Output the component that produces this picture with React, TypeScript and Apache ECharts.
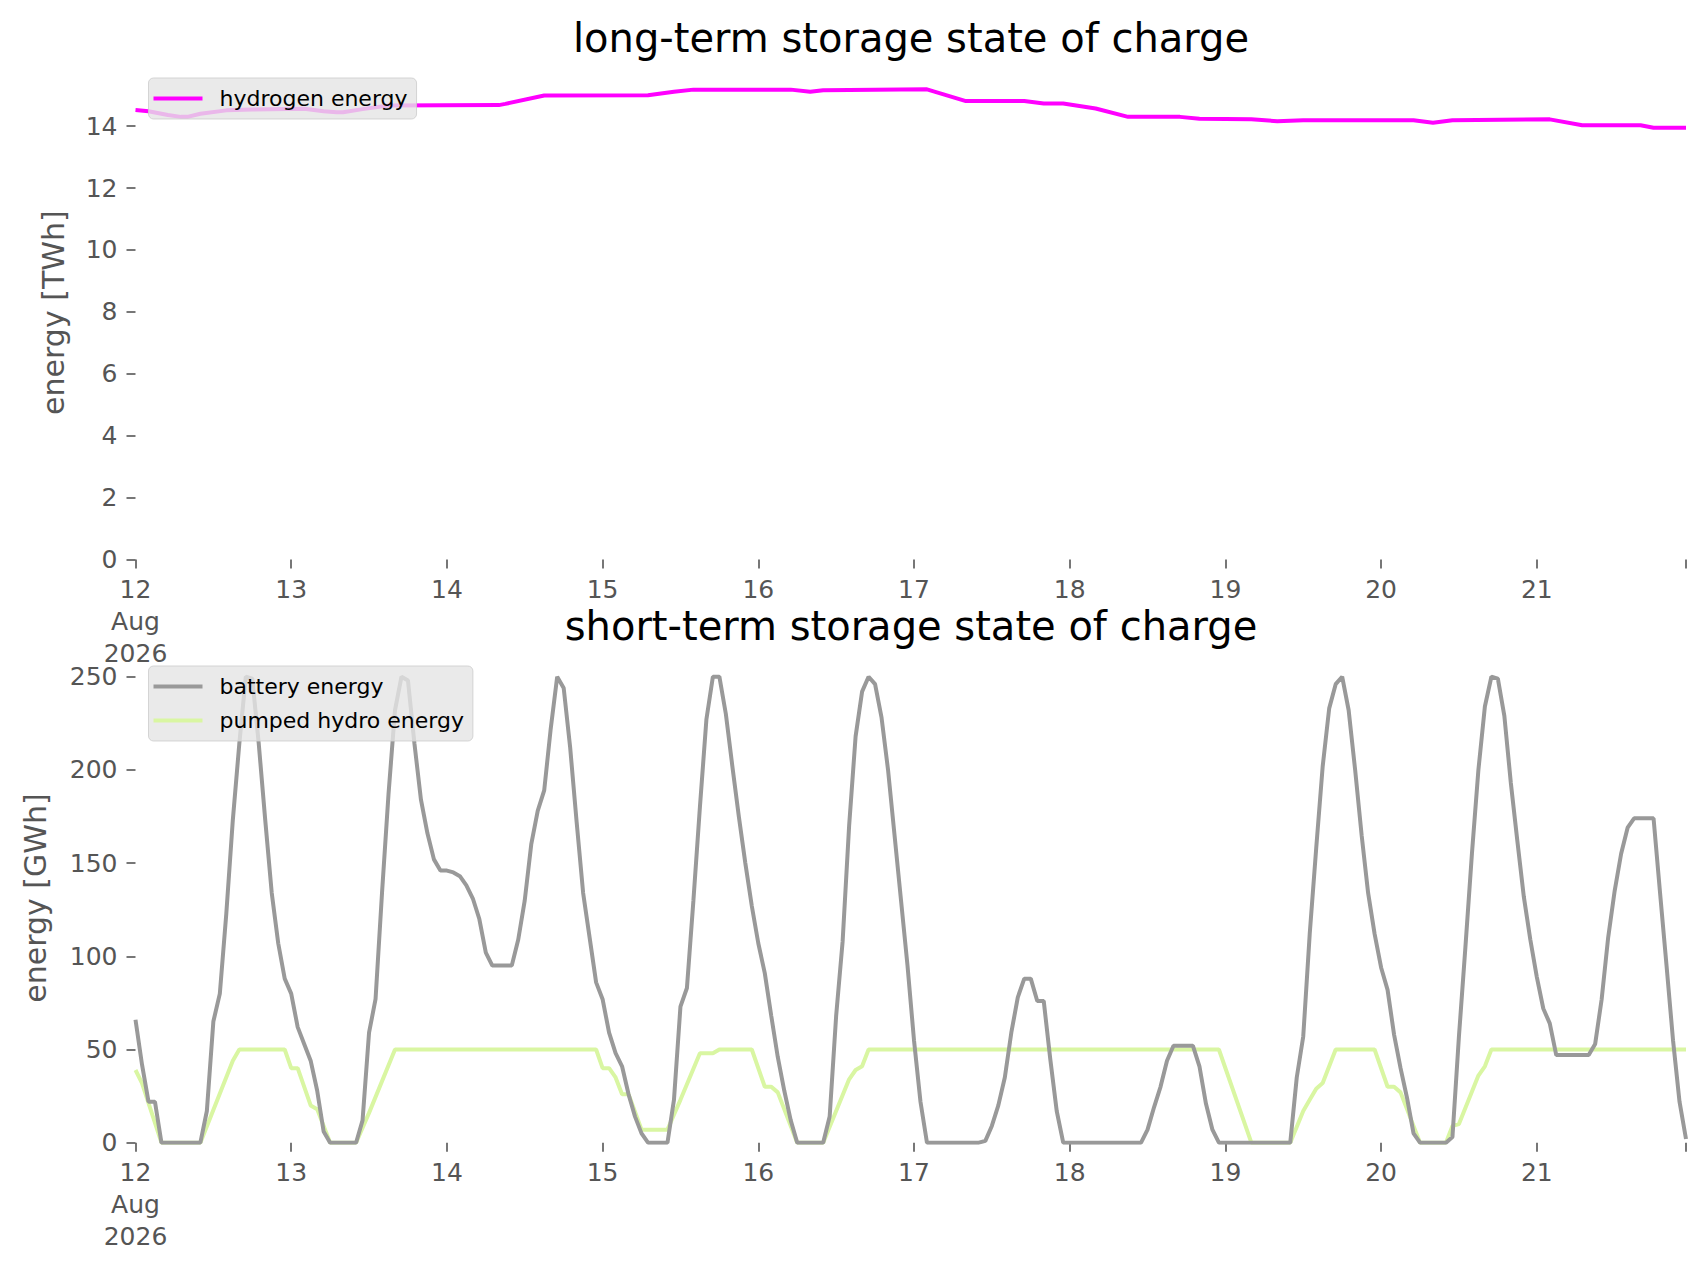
import React, { useEffect, useRef } from "react";
import * as echarts from "echarts";

// Hours since 2026-08-12 00:00 (hourly snapshots, last one 2026-08-21 23:00)
const LAST_HOUR = 239;
const dayTickHours = [0, 24, 48, 72, 96, 120, 144, 168, 192, 216];
const dayTickLabels = ["12\nAug\n2026", "13", "14", "15", "16", "17", "18", "19", "20", "21"];

const topYTicks = [0, 2, 4, 6, 8, 10, 12, 14];
const bottomYTicks = [0, 50, 100, 150, 200, 250];

// long-term storage: hydrogen energy [TWh]
const hydrogenHours = [0, 2, 5, 7, 8, 10, 14, 18, 26, 29, 31, 32, 35, 39, 56, 57, 63, 79, 83, 86, 101, 104, 106, 122, 128, 137, 140, 143, 148, 153, 161, 164, 172, 176, 180, 197, 200, 203, 218, 223, 232, 234, 239];
const hydrogenTWh = [14.52, 14.48, 14.36, 14.3, 14.3, 14.4, 14.51, 14.54, 14.56, 14.48, 14.45, 14.45, 14.55, 14.67, 14.68, 14.72, 14.99, 15.0, 15.11, 15.18, 15.18, 15.11, 15.16, 15.19, 14.81, 14.81, 14.73, 14.73, 14.57, 14.3, 14.3, 14.24, 14.22, 14.16, 14.19, 14.19, 14.11, 14.19, 14.22, 14.03, 14.03, 13.95, 13.95];

// short-term storage: battery energy [GWh]
const batteryHours = [0, 1, 2, 3, 4, 10, 11, 12, 13, 14, 15, 16, 17, 18, 19, 20, 21, 22, 23, 24, 25, 26, 27, 28, 29, 30,
  34, 35, 36, 37, 38, 39, 40, 41, 42, 43, 44, 45, 46, 47, 48, 49, 50, 51, 52, 53, 54, 55, 58, 59, 60, 61, 62, 63, 64, 65, 66, 67, 68, 69, 70, 71, 72, 73, 74, 75, 76, 77, 78, 79,
  82, 83, 84, 85, 86, 87, 88, 89, 90, 91, 92, 93, 94, 95, 96, 97, 98, 99, 100, 101, 102,
  106, 107, 108, 109, 110, 111, 112, 113, 114, 115, 116, 117, 118, 119, 120, 121, 122,
  130, 131, 132, 133, 134, 135, 136, 137, 138, 139, 140, 141, 142, 143,
  155, 156, 157, 158, 159, 160, 163, 164, 165, 166, 167,
  178, 179, 180, 181, 182, 183, 184, 185, 186, 187, 188, 189, 190, 191, 192, 193, 194, 195, 196, 197, 198,
  202, 203, 204, 205, 206, 207, 208, 209, 210, 211, 212, 213, 214, 215, 216, 217, 218, 219, 224, 225, 226, 227, 228, 229, 230, 231, 234, 235, 236, 237, 238, 239];
const batteryGWh = [66, 42, 22, 22, 0, 0, 17, 65, 80, 123, 173, 214, 250, 249, 214, 173, 134, 107, 88, 80, 62, 53, 44, 28, 6, 0,
  0, 12, 59, 77, 134, 187, 232, 250, 248, 214, 184, 166, 152, 146, 146, 145, 143, 138, 131, 120, 102, 95, 95, 109, 130, 160, 178, 189, 222, 250, 244, 212, 172, 134, 110, 86, 77, 59, 48, 41, 26, 14, 5, 0,
  0, 23, 73, 83, 130, 180, 227, 250, 250, 230, 202, 175, 150, 127, 107, 91, 68, 46, 28, 12, 0,
  0, 14, 68, 108, 170, 218, 242, 250, 246, 228, 200, 165, 130, 95, 55, 22, 0,
  0, 1, 9, 20, 35, 59, 78, 88, 88, 76, 76, 45, 17, 0,
  0, 7, 19, 30, 44, 52, 52, 41, 21, 7, 0,
  0, 35, 57, 112, 158, 202, 233, 246, 250, 232, 200, 165, 134, 112, 94, 82, 58, 40, 24, 5, 0,
  0, 3, 57, 105, 155, 200, 234, 250, 249, 229, 193, 162, 132, 109, 89, 72, 64, 47, 47, 53, 77, 110, 135, 155, 169, 174, 174, 134, 95, 55, 22, 2];

// short-term storage: pumped hydro energy [GWh]
const pumpedHours = [0, 1, 4, 10, 15, 16, 23, 24, 25, 27, 28, 30, 34, 36, 40, 71, 72, 73, 74, 75, 76, 78, 82, 83, 84, 87, 89, 90, 95, 97, 98, 99, 102, 106, 110, 111, 112, 113, 167, 172, 178, 180, 181, 182, 183, 185, 191, 193, 194, 195, 198, 202, 203, 204, 207, 208, 209, 239];
const pumpedGWh = [39, 32, 0, 0, 44, 50, 50, 40, 40, 20, 18, 0, 0, 16, 50, 50, 40, 40, 35, 26, 26, 7, 7, 15, 23, 48, 48, 50, 50, 30, 30, 27, 0, 0, 34, 39, 41, 50, 50, 0, 0, 17, 23, 29, 32, 50, 50, 30, 30, 27, 0, 0, 9, 10, 36, 41, 50, 50];

const FONT = "DejaVu Sans";
const TICK_COLOR = "#555555";
const LINE_W = 4;

const zip = (xs: number[], ys: number[]) => xs.map((x, i) => [x, ys[i]]);

function xAxisFor(gridIndex: number) {
  return {
    type: "value",
    gridIndex,
    min: 0,
    max: LAST_HOUR,
    interval: 24,
    axisLine: { show: false },
    splitLine: { show: false },
    axisTick: {
      show: true,
      length: 9,
      lineStyle: { color: TICK_COLOR, width: 1.6 },
      customValues: [...dayTickHours, LAST_HOUR],
    },
    axisLabel: {
      customValues: dayTickHours,
      margin: 14,
      color: TICK_COLOR,
      fontFamily: FONT,
      fontSize: 25,
      lineHeight: 32,
      formatter: (v: number) => {
        const i = dayTickHours.indexOf(Math.round(v));
        return i >= 0 ? dayTickLabels[i] : "";
      },
    },
  };
}

function yAxisFor(gridIndex: number, max: number, ticks: number[], name: string, nameGap: number) {
  return {
    type: "value",
    gridIndex,
    min: 0,
    max,
    name,
    nameLocation: "middle",
    nameGap,
    nameTextStyle: { color: TICK_COLOR, fontFamily: FONT, fontSize: 30 },
    axisLine: { show: false },
    splitLine: { show: false },
    axisTick: {
      show: true,
      length: 9,
      lineStyle: { color: TICK_COLOR, width: 1.6 },
      customValues: ticks,
    },
    axisLabel: {
      customValues: ticks,
      margin: 18,
      color: TICK_COLOR,
      fontFamily: FONT,
      fontSize: 25,
    },
  };
}

const legendBase = {
  backgroundColor: "rgba(229,229,229,0.8)",
  borderColor: "rgba(204,204,204,0.8)",
  borderWidth: 1,
  borderRadius: 5,
  padding: [8, 9, 8, 5],
  icon: "rect",
  itemWidth: 49,
  itemHeight: LINE_W,
  textStyle: { color: "#000", fontFamily: FONT, fontSize: 22, lineHeight: 25, padding: [0, 0, 0, 12] },
};

export default function App() {
  const ref = useRef<HTMLDivElement>(null);

  useEffect(() => {
    if (!ref.current) return;
    const chart = echarts.init(ref.current, undefined, { renderer: "svg" });
    const option: any = {
      animation: false,
      backgroundColor: "#ffffff",
      title: [
        {
          text: "long-term storage state of charge",
          left: 911,
          top: 18,
          padding: 0,
          textAlign: "center",
          textStyle: { color: "#000", fontFamily: FONT, fontSize: 40, fontWeight: "normal" },
        },
        {
          text: "short-term storage state of charge",
          left: 911,
          top: 606,
          padding: 0,
          textAlign: "center",
          textStyle: { color: "#000", fontFamily: FONT, fontSize: 40, fontWeight: "normal" },
        },
      ],
      grid: [
        { left: 135.5, top: 65.8, width: 1550.5, height: 493.7, containLabel: false },
        { left: 135.5, top: 653.4, width: 1550.5, height: 489.3, containLabel: false },
      ],
      xAxis: [xAxisFor(0), xAxisFor(1)],
      yAxis: [
        yAxisFor(0, 15.95, topYTicks, "energy [TWh]", 67),
        yAxisFor(1, 262.5, bottomYTicks, "energy [GWh]", 85),
      ],
      legend: [
        { ...legendBase, left: 148.5, top: 78, orient: "vertical", data: ["hydrogen energy"] },
        { ...legendBase, left: 148.5, top: 666, orient: "vertical", itemGap: 9, data: ["battery energy", "pumped hydro energy"] },
      ],
      series: [
        {
          name: "hydrogen energy",
          type: "line",
          xAxisIndex: 0,
          yAxisIndex: 0,
          data: zip(hydrogenHours, hydrogenTWh),
          symbol: "none",
          color: "#ff00ff",
          lineStyle: { color: "#ff00ff", width: LINE_W },
        },
        {
          name: "battery energy",
          type: "line",
          xAxisIndex: 1,
          yAxisIndex: 1,
          z: 3,
          data: zip(batteryHours, batteryGWh),
          symbol: "none",
          color: "#999999",
          lineStyle: { color: "#999999", width: LINE_W },
        },
        {
          name: "pumped hydro energy",
          type: "line",
          xAxisIndex: 1,
          yAxisIndex: 1,
          z: 2,
          data: zip(pumpedHours, pumpedGWh),
          symbol: "none",
          color: "#d9f6a2",
          lineStyle: { color: "#d9f6a2", width: LINE_W },
        },
      ],
    };
    chart.setOption(option);
    return () => chart.dispose();
  }, []);

  return (
    <div
      ref={ref}
      style={{ position: "absolute", left: 0, top: 0, width: 1706, height: 1277, background: "#fff" }}
    />
  );
}
